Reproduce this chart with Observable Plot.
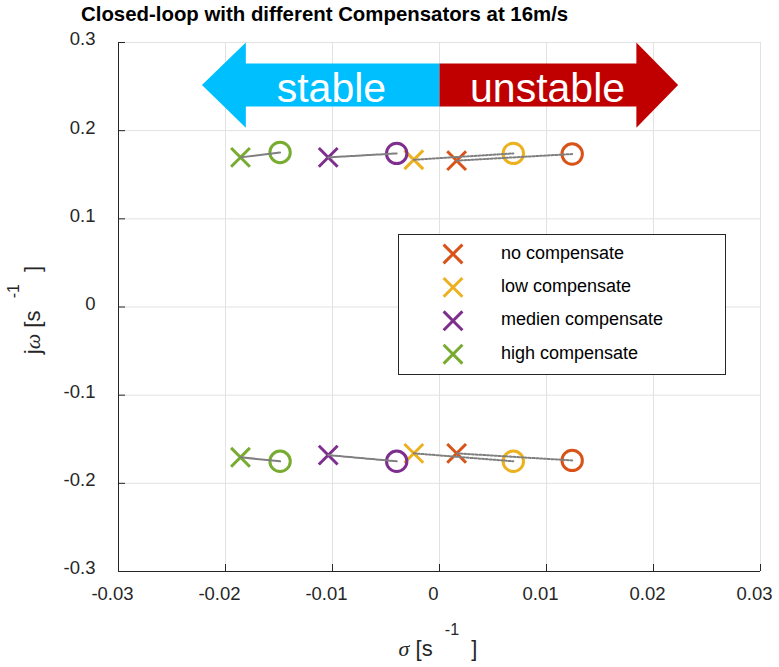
<!DOCTYPE html>
<html><head><meta charset="utf-8">
<script src="https://cdn.jsdelivr.net/npm/d3@7"></script>
<script src="https://cdn.jsdelivr.net/npm/@observablehq/plot@0.6"></script>
<style>body{margin:0;background:#fff;} svg{display:block}</style>
</head><body><div id="chart"></div>
<script>
// ---- data ----
const titleText = "Closed-loop with different Compensators at 16m/s";
const series = ["no compensate", "low compensate", "medien compensate", "high compensate"];
const poleRe = [0.0016, -0.0024, -0.0104, -0.0186];
const poleImUpper = [0.166, 0.167, 0.1697, 0.1697];
const poleImLower = [-0.166, -0.166, -0.168, -0.1705];
const zeroRe = [0.0124, 0.0069, -0.0040, -0.0149];
const zeroImUpper = [0.1735, 0.1742, 0.1742, 0.1753];
const zeroImLower = [-0.174, -0.175, -0.175, -0.175];
const xTicks = [-0.03, -0.02, -0.01, 0, 0.01, 0.02, 0.03];
const xTickLabels = ["-0.03", "-0.02", "-0.01", "0", "0.01", "0.02", "0.03"];
const yTicks = [-0.3, -0.2, -0.1, 0, 0.1, 0.2, 0.3];
const yTickLabels = ["-0.3", "-0.2", "-0.1", "0", "0.1", "0.2", "0.3"];
const arrowLabels = ["stable", "unstable"];
const arrowTip = [-0.0222, 0.0223];
const arrowHeadBase = [-0.0181, 0.0184];
const arrowLabelX = [-0.0101, 0.0101];
const arrowCenterY = 0.2517;
const arrowHeadHalf = 0.0483;
const arrowBodyHalf = 0.0244;

// ---- styles ----
const colors = ["#D95319", "#EDB120", "#7E2F8E", "#77AC30"];
const arrowColors = ["#00BFFF", "#C00000"];
const lineDash = ["2,1.8", "2,1.8", "2.5,1.2", null];
const font = "'Liberation Sans', Arial, Helvetica, sans-serif";
const ink = "#262626";

// ---- derived tables ----
const poles = series.flatMap((s, i) => [
  {s, i, re: poleRe[i], im: poleImUpper[i]},
  {s, i, re: poleRe[i], im: poleImLower[i]}
]);
const zeros = series.flatMap((s, i) => [
  {s, i, re: zeroRe[i], im: zeroImUpper[i]},
  {s, i, re: zeroRe[i], im: zeroImLower[i]}
]);
const locus = i => [
  {b: "u", re: poleRe[i], im: poleImUpper[i]}, {b: "u", re: zeroRe[i], im: zeroImUpper[i]},
  {b: "l", re: poleRe[i], im: poleImLower[i]}, {b: "l", re: zeroRe[i], im: zeroImLower[i]}
];
const arrowPoly = k => {
  const c = arrowCenterY, t = arrowTip[k], h = arrowHeadBase[k];
  return [[0, c + arrowBodyHalf], [h, c + arrowBodyHalf], [h, c + arrowHeadHalf], [t, c],
          [h, c - arrowHeadHalf], [h, c - arrowBodyHalf], [0, c - arrowBodyHalf]];
};

const W = 779, H = 667, mL = 118, mR = 19, mT = 42, mB = 96;
const fw = W - mL - mR, fh = H - mT - mB;

const plot = Plot.plot({
  width: W, height: H,
  marginLeft: mL, marginRight: mR, marginTop: mT, marginBottom: mB,
  style: {fontFamily: font, fontSize: "18px", color: ink, background: "#fff"},
  x: {domain: [-0.03, 0.03], label: null},
  y: {domain: [-0.3, 0.3], label: null},
  marks: [
    Plot.ruleX(xTicks, {stroke: "#e2e2e2", strokeWidth: 1}),
    Plot.ruleY(yTicks, {stroke: "#e2e2e2", strokeWidth: 1}),
    ...[0, 1].map(k => Plot.line(arrowPoly(k), {x: d => d[0], y: d => d[1], fill: arrowColors[k], stroke: null})),
    Plot.text(arrowLabels, {x: (d, i) => arrowLabelX[i], y: () => arrowCenterY, text: d => d,
      fill: "#fff", fontSize: 41, dy: 4}),
    Plot.ruleX([-0.03], {stroke: ink, strokeWidth: 1}),
    Plot.ruleY([-0.3], {stroke: ink, strokeWidth: 1}),
    Plot.tickX(xTicks, {x: d => d, stroke: ink, insetTop: fh - 7}),
    Plot.tickY(yTicks, {y: d => d, stroke: ink, insetRight: fw - 7}),
    Plot.axisX({ticks: xTicks, tickFormat: (d, i) => xTickLabels[i], tickSize: 0, tickPadding: 15, dx: -6, fontSize: 18.5, fill: ink, label: null}),
    Plot.axisY({ticks: yTicks, tickFormat: (d, i) => yTickLabels[i], tickSize: 0, tickPadding: 23, dy: -3, fontSize: 18.5, fill: ink, label: null}),
    Plot.dot(poles, {x: "re", y: "im", symbol: "times", r: 8.6, stroke: d => colors[d.i], strokeWidth: 3}),
    Plot.dot(zeros, {x: "re", y: "im", symbol: "circle", r: 10.2, stroke: d => colors[d.i], strokeWidth: 3, fill: "none"}),
    ...series.map((s, i) => Plot.line(locus(i), {x: "re", y: "im", z: "b", stroke: "#7f7f7f",
      strokeWidth: 2, strokeDasharray: lineDash[i]}))
  ]
});

const svg = d3.select(plot);
// title
svg.append("text").attr("x", 81).attr("y", 20.5).attr("text-anchor", "start").attr("font-family", font)
  .attr("font-weight", "bold").attr("font-size", 20.4).attr("fill", "#000").text(titleText);

// x label
const xl = svg.append("text").attr("x", 438).attr("y", 656).attr("text-anchor", "middle")
  .attr("font-family", font).attr("font-size", 22).attr("fill", ink);
xl.append("tspan").attr("font-family", "'Liberation Serif', 'DejaVu Serif', serif").attr("font-style", "italic").text("σ");
xl.append("tspan").text(" [s  ");
xl.append("tspan").attr("font-size", 16).attr("dy", -21).text("-1");
xl.append("tspan").attr("dy", 21).text("  ]");

// y label
const yl = svg.append("text").attr("transform", "translate(40,310) rotate(-90)").attr("text-anchor", "middle")
  .attr("font-family", font).attr("font-size", 22).attr("fill", ink);
yl.append("tspan").text("j");
yl.append("tspan").attr("font-family", "'Liberation Serif', 'DejaVu Serif', serif").attr("font-style", "italic").text("ω");
yl.append("tspan").text(" [s  ");
yl.append("tspan").attr("font-size", 16).attr("dy", -21).text("-1");
yl.append("tspan").attr("dy", 21).text("  ]");

// legend
const lg = svg.append("g");
lg.append("rect").attr("x", 398.5).attr("y", 234.5).attr("width", 327).attr("height", 140)
  .attr("fill", "#fff").attr("stroke", ink).attr("stroke-width", 1);
const symSize = Math.PI * 8.6 * 8.6;
series.forEach((s, i) => {
  const cy = 254 + i * 33.4;
  lg.append("path").attr("d", d3.symbol(d3.symbolTimes, symSize)())
    .attr("transform", `translate(453,${cy})`).attr("fill", "none")
    .attr("stroke", colors[i]).attr("stroke-width", 3);
  lg.append("text").attr("x", 501).attr("y", cy + 4.5).attr("text-anchor", "start").attr("font-family", font)
    .attr("font-size", 18).attr("fill", "#000").text(s);
});

document.getElementById("chart").appendChild(plot);
</script>
</body></html>
